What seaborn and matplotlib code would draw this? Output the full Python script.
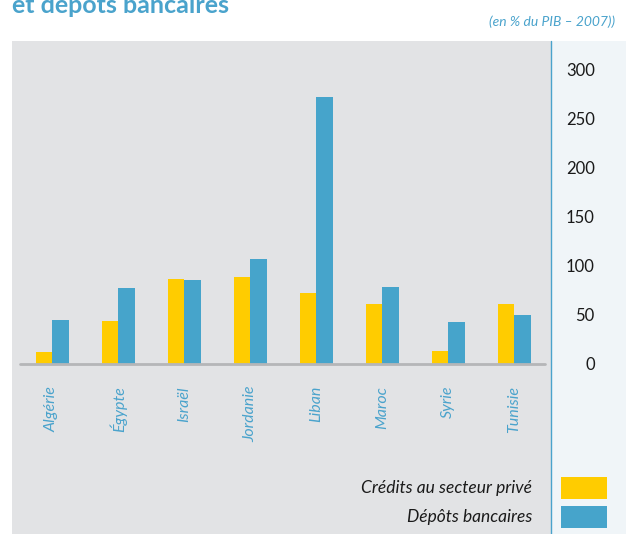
import pandas as pd
import numpy as np
import matplotlib
matplotlib.use('Agg')
import matplotlib.pyplot as plt
from matplotlib.patches import Rectangle
from matplotlib.lines import Line2D
import seaborn as sns

YELLOW = '#ffcc00'
BLUE = '#46a4cb'
TEXT_BLUE = '#4aa3cc'
PANEL_GRAY = '#e2e3e5'
SIDE_PANEL = '#f0f5f8'

countries = ['Algérie', 'Égypte', 'Israël', 'Jordanie', 'Liban', 'Maroc', 'Syrie', 'Tunisie']
credits = [12.5, 44, 86.5, 88.5, 72, 61, 13, 61]
depots = [45, 77, 85.5, 107, 272, 78, 43, 50]
series = ['Crédits au secteur privé', 'Dépôts bancaires']
yticks = [0, 50, 100, 150, 200, 250, 300]

df = pd.DataFrame({
    'pays': countries * 2,
    'valeur': credits + depots,
    'serie': [series[0]] * len(countries) + [series[1]] * len(countries),
})

sns.set_theme(style='white')
plt.rcParams['font.family'] = ['Lato', 'DejaVu Sans']

W, H = 626, 534
PX = 0.983  # pixels par unité
fig = plt.figure(figsize=(W / 100, H / 100), dpi=100)
fig.patch.set_facecolor('white')

# panneau de droite (axe des valeurs)
fig.add_artist(Rectangle((551 / W, 0), (W - 551) / W, (H - 41) / H,
                         transform=fig.transFigure, facecolor=SIDE_PANEL, edgecolor='none', zorder=0))
ax = fig.add_axes([12 / W, 0, (551 - 12) / W, (H - 41) / H])
ax.set_facecolor(PANEL_GRAY)

sns.barplot(data=df, x='pays', y='valeur', hue='serie', palette=[YELLOW, BLUE],
            width=0.5, gap=0, saturation=1, linewidth=0, ax=ax, legend=False)

ax.set_xlim(-40 / 66, (551 - 52) / 66)
ax.set_ylim(-(H - 364) / PX, (364 - 41) / PX)
for s in ax.spines.values():
    s.set_visible(False)
ax.axhline(0, xmin=8 / 539, xmax=533 / 539, color='#b5b6b8', lw=2, zorder=1)

ax.set_xlabel('')
ax.set_ylabel('')
ax.set_xticks([])
# noms des pays sous la ligne de base
for i, name in enumerate(countries):
    ax.text(i, -22 / PX, name, rotation=90, ha='center', va='top',
            fontsize=11.5, style='italic', color=TEXT_BLUE)

ax.yaxis.tick_right()
ax.set_yticks(yticks)
ax.set_yticklabels([str(v) for v in yticks], fontsize=12, color='#1a1a1a')
ax.tick_params(axis='y', length=0, pad=31.5)
for lab in ax.get_yticklabels():
    lab.set_horizontalalignment('right')

fig.add_artist(Line2D([551 / W, 551 / W], [0, (H - 41) / H], transform=fig.transFigure,
                      color=TEXT_BLUE, lw=1))

# légende
for i, (lab, col) in enumerate(zip(series, [YELLOW, BLUE])):
    y0 = 477 + i * 29
    fig.add_artist(Rectangle((561 / W, 1 - (y0 + 22) / H), 46 / W, 22 / H,
                             transform=fig.transFigure, facecolor=col, edgecolor='none'))
    fig.text(532 / W, 1 - (y0 + 11) / H, lab, ha='right', va='center',
             fontsize=12.5, style='italic', color='#1a1a1a')

fig.text(12 / W, 1 - 13 / H, 'et dépôts bancaires', ha='left', va='baseline',
         fontsize=18, fontweight='bold', color=TEXT_BLUE)
fig.text(615 / W, 1 - 26 / H, '(en % du PIB – 2007))', ha='right', va='baseline',
         fontsize=10, style='italic', color=TEXT_BLUE)

fig.savefig('out.png', dpi=100)
